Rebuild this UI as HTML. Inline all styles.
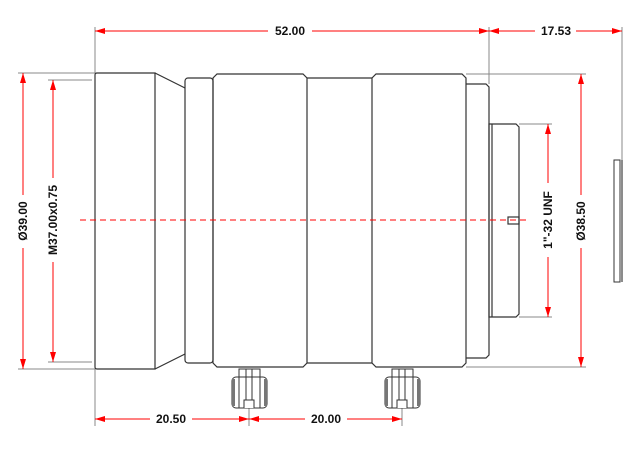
<!DOCTYPE html>
<html><head><meta charset="utf-8"><style>html,body{margin:0;padding:0;background:#fff}svg{display:block}</style></head><body>
<svg width="640" height="453" viewBox="0 0 640 453" xmlns="http://www.w3.org/2000/svg" font-family="Liberation Sans, sans-serif">
<defs>
<marker id="a" viewBox="0 0 10 6" refX="10" refY="3" markerWidth="10" markerHeight="6" orient="auto-start-reverse" markerUnits="userSpaceOnUse"><path d="M0,0L10,3L0,6z" fill="#f00"/></marker>
<g id="screw">
<rect x="-10" y="369" width="21" height="8" fill="#fff" stroke="#333" stroke-width="1"/>
<rect x="-17" y="377" width="35" height="31" rx="4" fill="#fff" stroke="#333" stroke-width="1"/>
<rect x="-17" y="379" width="3" height="27" fill="#777"/>
<rect x="15" y="379" width="3" height="27" fill="#777"/>
<line x1="-10" y1="377" x2="-10" y2="408" stroke="#333"/>
<line x1="11" y1="377" x2="11" y2="408" stroke="#333"/>
<line x1="-3" y1="369" x2="-3" y2="400" stroke="#333"/>
<line x1="3" y1="369" x2="3" y2="400" stroke="#333"/>
<path d="M-5,408V400H5V408" fill="#fff" stroke="#333"/>
</g>
</defs>
<g fill="none" stroke="#333" stroke-width="1.2">
<!-- front barrel -->
<path d="M97,73H155V369H97Q95,369 95,367V75Q95,73 97,73Z"/>
<path d="M155,73L185,88M155,369L185,354"/>
<rect x="185" y="78" width="28" height="285" rx="3"/>
<path d="M217,74H303L307,78V363L303,367H217L213,363V78Z"/>
<path d="M307,78H372M307,363H372"/>
<path d="M376,74H462L466,78V363L462,367H376L372,363V78Z"/>
<path d="M466,84H486L489,87V355L486,358H466"/>
<path d="M489,124H516L519,127V314L516,317H489Z"/>
<line x1="492" y1="124" x2="492" y2="317"/>
<rect x="508" y="217" width="11" height="7"/>
<rect x="614" y="160" width="6" height="122" stroke-width="1"/>
</g>
<line x1="622" y1="160" x2="622" y2="282" stroke="#666" stroke-width="1.5"/>
<!-- extension lines -->
<g stroke="#888" stroke-width="1">
<line x1="95" y1="27" x2="95" y2="73"/>
<line x1="489" y1="27" x2="489" y2="84"/>
<line x1="622" y1="27" x2="622" y2="160"/>
<line x1="18" y1="73" x2="95" y2="73"/>
<line x1="48" y1="80" x2="92" y2="80"/>
<line x1="18" y1="369" x2="95" y2="369"/>
<line x1="48" y1="362" x2="92" y2="362"/>
<line x1="466" y1="74" x2="586" y2="74"/>
<line x1="466" y1="367" x2="586" y2="367"/>
<line x1="519" y1="124" x2="552" y2="124"/>
<line x1="519" y1="317" x2="552" y2="317"/>
<line x1="95" y1="369" x2="95" y2="426"/>
<line x1="249" y1="408" x2="249" y2="426"/>
<line x1="402" y1="408" x2="402" y2="426"/>
</g>
<use href="#screw" x="249"/>
<use href="#screw" x="402"/>
<!-- centerline -->
<line x1="80" y1="220" x2="530" y2="220" stroke="#f00" stroke-width="1" stroke-dasharray="6,4"/>
<!-- dims -->
<g stroke="#f00" stroke-width="1" fill="none">
<line x1="95" y1="31" x2="268" y2="31" marker-start="url(#a)"/>
<line x1="312" y1="31" x2="489" y2="31" marker-end="url(#a)"/>
<line x1="489" y1="31" x2="535" y2="31" marker-start="url(#a)"/>
<line x1="576" y1="31" x2="622" y2="31" marker-end="url(#a)"/>
<line x1="23" y1="73" x2="23" y2="195" marker-start="url(#a)"/>
<line x1="23" y1="248" x2="23" y2="369" marker-end="url(#a)"/>
<line x1="53" y1="80" x2="53" y2="178" marker-start="url(#a)"/>
<line x1="53" y1="262" x2="53" y2="362" marker-end="url(#a)"/>
<line x1="581" y1="74" x2="581" y2="195" marker-start="url(#a)"/>
<line x1="581" y1="248" x2="581" y2="367" marker-end="url(#a)"/>
<line x1="548" y1="124" x2="548" y2="183" marker-start="url(#a)"/>
<line x1="548" y1="257" x2="548" y2="317" marker-end="url(#a)"/>
<line x1="95" y1="419" x2="150" y2="419" marker-start="url(#a)"/>
<line x1="192" y1="419" x2="249" y2="419" marker-end="url(#a)"/>
<line x1="249" y1="419" x2="305" y2="419" marker-start="url(#a)"/>
<line x1="347" y1="419" x2="402" y2="419" marker-end="url(#a)"/>
</g>
<g font-size="12" font-weight="bold" fill="#111" text-anchor="middle">
<text x="290" y="35">52.00</text>
<text x="556" y="35">17.53</text>
<text x="171" y="423">20.50</text>
<text x="326" y="423">20.00</text>
<text transform="translate(27,221) rotate(-90)">Ø39.00</text>
<text transform="translate(57,220) rotate(-90)">M37.00x0.75</text>
<text transform="translate(585,221) rotate(-90)">Ø38.50</text>
<text transform="translate(552,220) rotate(-90)">1"-32 UNF</text>
</g>
</svg>
</body></html>
